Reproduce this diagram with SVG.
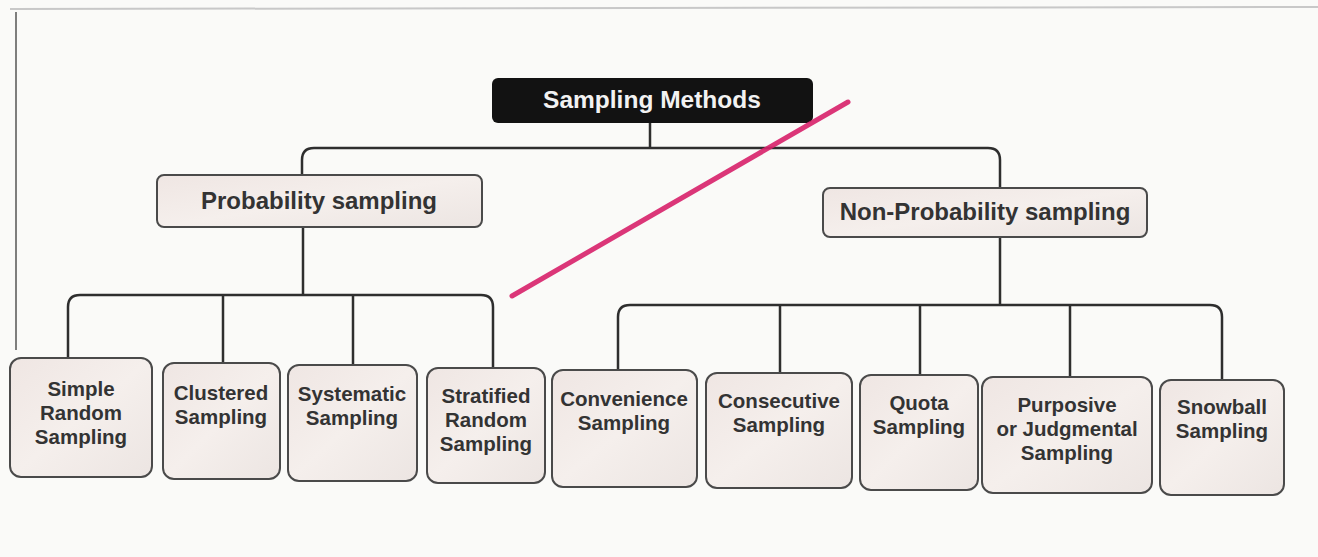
<svg xmlns="http://www.w3.org/2000/svg" width="1318" height="557" viewBox="0 0 1318 557">
<defs>
<linearGradient id="boxfill" x1="0" y1="0" x2="1" y2="1">
<stop offset="0" stop-color="#efe6e3"/>
<stop offset="0.5" stop-color="#f5efec"/>
<stop offset="1" stop-color="#ece5e2"/>
</linearGradient>
<style>
.box{fill:url(#boxfill);stroke:#4a4a4a;stroke-width:2}
.lbl{font-family:"Liberation Sans",Arial,sans-serif;font-weight:bold;font-size:20.5px;fill:#333;text-anchor:middle}
.mid{font-size:24px}
.root{font-family:"Liberation Sans",Arial,sans-serif;font-weight:bold;font-size:24.5px;fill:#f2f2f2;text-anchor:middle}
.conn{fill:none;stroke:#2e2e2e;stroke-width:2.5;stroke-linejoin:round}
</style>
</defs>
<rect x="0" y="0" width="1318" height="557" fill="#fafaf8"/>
<line x1="10" y1="9" x2="1318" y2="7" stroke="#c8c8c8" stroke-width="2"/>
<line x1="16" y1="12" x2="16" y2="350" stroke="#555" stroke-width="1.5"/>

<g id="connectors">
<path class="conn" d="M650,123 V148"/>
<path class="conn" d="M302,175 V160 Q302,148 314,148 H988 Q1000,148 1000,160 V188"/>
<path class="conn" d="M303,227 V295"/>
<path class="conn" d="M68,358 V307 Q68,295 80,295 H481 Q493,295 493,307 V368"/>
<path class="conn" d="M223,295 V363"/>
<path class="conn" d="M353,295 V365"/>
<path class="conn" d="M1000,237 V305"/>
<path class="conn" d="M618,370 V317 Q618,305 630,305 H1210 Q1222,305 1222,317 V380"/>
<path class="conn" d="M780,305 V373"/>
<path class="conn" d="M920,305 V375"/>
<path class="conn" d="M1070,305 V377"/>
</g>

<g id="root">
<rect x="492" y="78" width="321" height="45" rx="6" fill="#121212"/>
<text class="root" x="652" y="108">Sampling Methods</text>
</g>

<g id="probability">
<rect class="box" x="157" y="175" width="325" height="52" rx="7"/>
<text class="lbl mid" x="319" y="209">Probability sampling</text>
</g>

<g id="nonprobability">
<rect class="box" x="823" y="188" width="324" height="49" rx="7"/>
<text class="lbl mid" x="985" y="220">Non-Probability sampling</text>
</g>

<g id="simple-random">
<rect class="box" x="10" y="358" width="142" height="119" rx="11"/>
<text class="lbl" x="81" y="396">Simple</text>
<text class="lbl" x="81" y="420">Random</text>
<text class="lbl" x="81" y="444">Sampling</text>
</g>

<g id="clustered">
<rect class="box" x="163" y="363" width="117" height="116" rx="11"/>
<text class="lbl" x="221" y="400">Clustered</text>
<text class="lbl" x="221" y="424">Sampling</text>
</g>

<g id="systematic">
<rect class="box" x="288" y="365" width="129" height="116" rx="11"/>
<text class="lbl" x="352" y="401">Systematic</text>
<text class="lbl" x="352" y="425">Sampling</text>
</g>

<g id="stratified">
<rect class="box" x="427" y="368" width="118" height="115" rx="11"/>
<text class="lbl" x="486" y="403">Stratified</text>
<text class="lbl" x="486" y="427">Random</text>
<text class="lbl" x="486" y="451">Sampling</text>
</g>

<g id="convenience">
<rect class="box" x="552" y="370" width="145" height="117" rx="11"/>
<text class="lbl" x="624" y="406">Convenience</text>
<text class="lbl" x="624" y="430">Sampling</text>
</g>

<g id="consecutive">
<rect class="box" x="706" y="373" width="146" height="115" rx="11"/>
<text class="lbl" x="779" y="408">Consecutive</text>
<text class="lbl" x="779" y="432">Sampling</text>
</g>

<g id="quota">
<rect class="box" x="860" y="375" width="118" height="115" rx="11"/>
<text class="lbl" x="919" y="410">Quota</text>
<text class="lbl" x="919" y="434">Sampling</text>
</g>

<g id="purposive">
<rect class="box" x="982" y="377" width="170" height="116" rx="11"/>
<text class="lbl" x="1067" y="412">Purposive</text>
<text class="lbl" x="1067" y="436">or Judgmental</text>
<text class="lbl" x="1067" y="460">Sampling</text>
</g>

<g id="snowball">
<rect class="box" x="1160" y="380" width="124" height="115" rx="11"/>
<text class="lbl" x="1222" y="414">Snowball</text>
<text class="lbl" x="1222" y="438">Sampling</text>
</g>

<line x1="512" y1="296" x2="848" y2="102" stroke="#d8216b" stroke-width="5" stroke-linecap="round" opacity="0.9"/>
</svg>
